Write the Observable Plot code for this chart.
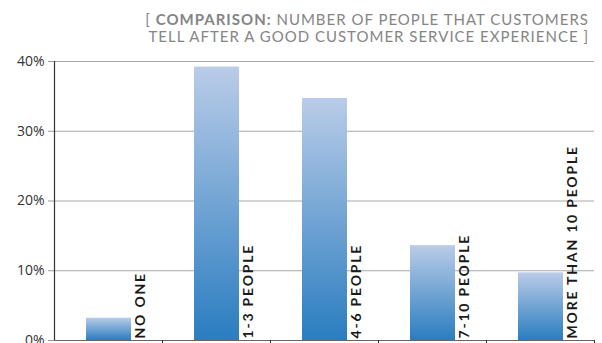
<!DOCTYPE html>
<html>
<head>
<meta charset="utf-8">
<script src="https://cdn.jsdelivr.net/npm/d3@7"></script>
<script src="https://cdn.jsdelivr.net/npm/@observablehq/plot@0.6"></script>
<style>
  html, body { margin: 0; padding: 0; background: #fff; width: 602px; height: 343px; overflow: hidden; }
  #title { height: 50px; box-sizing: border-box; padding-top: 11px; padding-right: 13px; text-align: right;
    font-family: Lato, "Open Sans", sans-serif; font-size: 15px; line-height: 17px; letter-spacing: 1px; color: #858585; }
  #title div { height: 17px; white-space: nowrap; }
  #title b { font-weight: 700; }
  .barlabel text { letter-spacing: 1.8px; }
</style>
</head>
<body>
<div id="title"></div>
<div id="chart"></div>
<script>
const categories = ["NO ONE", "1-3 PEOPLE", "4-6 PEOPLE", "7-10 PEOPLE", "MORE THAN 10 PEOPLE"];
const values = [3.2, 39.2, 34.7, 13.6, 9.7];
const yTicks = [0, 10, 20, 30, 40];
const titleBold = "COMPARISON:";
const titleLine1 = "NUMBER OF PEOPLE THAT CUSTOMERS";
const titleLine2 = "TELL AFTER A GOOD CUSTOMER SERVICE EXPERIENCE ]";

document.getElementById("title").innerHTML =
  `<div>[ <b>${titleBold}</b> ${titleLine1}</div><div>${titleLine2}</div>`;

const data = categories.map((c, i) => ({ category: c, value: values[i], index: i }));

const chart = Plot.plot({
  width: 602,
  height: 293,
  marginTop: 11,
  marginBottom: 3,
  marginLeft: 54,
  marginRight: 8,
  style: { fontFamily: "'Open Sans', sans-serif", fontSize: "14px", color: "#333", overflow: "visible" },
  x: { domain: [0, categories.length], axis: null },
  y: { domain: [0, 40], axis: null },
  marks: [
    Plot.gridY(yTicks.filter(d => d > 0), { stroke: "#a8a8a8", strokeOpacity: 1, strokeWidth: 1 }),
    Plot.rectY(data, {
      x1: d => d.index, x2: d => d.index + 1, y: "value",
      insetLeft: 32, insetRight: 31, fill: "url(#barGrad)"
    }),
    Plot.text(data, {
      x: d => d.index + 0.5, y: 0, text: "category", rotate: -90,
      textAnchor: "start", lineAnchor: "middle", dx: 32, dy: -2,
      fontFamily: "Lato, 'Open Sans', sans-serif", fontWeight: 700, fontSize: 14,
      fill: "#1a1a1a", className: "barlabel"
    }),
    Plot.ruleY([0], { stroke: "#666", strokeWidth: 1.2 }),
    Plot.ruleX([0], { stroke: "#333", strokeWidth: 1.2 }),
    Plot.axisX({ ticks: d3.range(1, categories.length + 1), tickFormat: () => "", tickSize: 5, stroke: "#333", label: null }),
    Plot.axisY({ ticks: yTicks, tickFormat: d => d + "%", tickSize: 6, tickPadding: 4, stroke: "#999", fill: "#333", fontSize: 14, label: null })
  ]
});

// gradient definition for bars
const ns = "http://www.w3.org/2000/svg";
const defs = document.createElementNS(ns, "defs");
defs.innerHTML = `<linearGradient id="barGrad" x1="0" y1="0" x2="0" y2="1">
  <stop offset="0" stop-color="#bacce8"/>
  <stop offset="1" stop-color="#2a7dc0"/>
</linearGradient>`;
chart.insertBefore(defs, chart.firstChild);
document.getElementById("chart").appendChild(chart);
</script>
</body>
</html>
